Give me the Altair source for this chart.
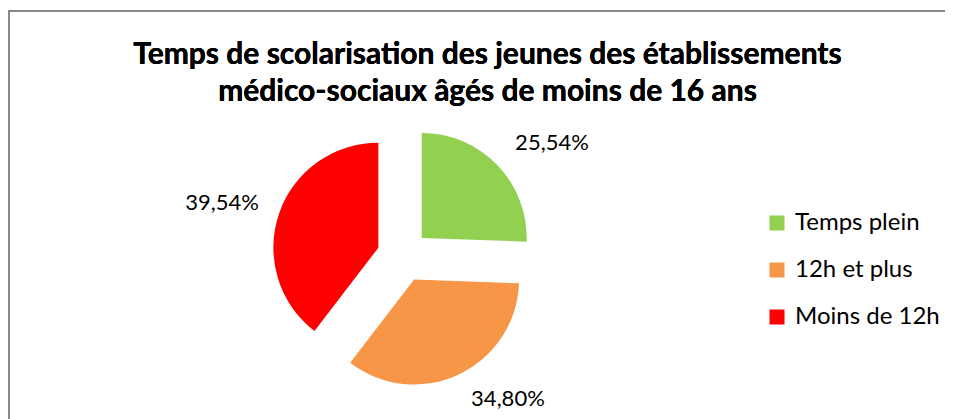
import altair as alt
import pandas as pd

categories = ["Temps plein", "\u00a012h et plus", "Moins de 12h"]
values = [25.54, 34.80, 39.54]
value_labels = ["25,54%", "34,80%", "39,54%"]
colors = ["#92D050", "#F79646", "#FF0000"]
title_lines = ["Temps de scolarisation des jeunes des établissements",
               "médico-sociaux âgés de moins de 16 ans"]

FONT = "Lato"

df = pd.DataFrame({
    "order": list(range(len(values))),
    "cat": categories,
    "value": values,
    "label": value_labels,
})

base = alt.Chart(df).transform_window(
    cum="sum(value)", sort=[alt.SortField("order")], frame=[None, 0]
).transform_joinaggregate(
    total="sum(value)"
).transform_calculate(
    a1="datum.cum / datum.total * 2 * PI",
    a0="(datum.cum - datum.value) / datum.total * 2 * PI",
).transform_calculate(
    mid="(datum.a0 + datum.a1) / 2"
).transform_calculate(
    cx="395 + 26 * sin(datum.mid)",
    cy="248 - 26 * cos(datum.mid)",
).transform_calculate(
    lx="datum.cx + 124 * sin(datum.mid) + (sin(datum.mid) > 0 ? 41 : -39)",
    ly="datum.cy - 134 * cos(datum.mid) - 2",
)

arcs = base.mark_arc(radius=105).encode(
    x=alt.X("cx:Q", scale=None),
    y=alt.Y("cy:Q", scale=None),
    theta=alt.Theta("a0:Q", scale=None),
    theta2=alt.Theta2("a1:Q"),
    color=alt.Color(
        "cat:N",
        scale=alt.Scale(domain=categories, range=colors),
        legend=alt.Legend(
            title=None, orient="none", legendX=757, legendY=203,
            symbolType="square", symbolSize=225, symbolStrokeWidth=0,
            labelFont=FONT, labelFontSize=24, labelColor="#000000",
            rowPadding=23, labelOffset=6,
        ),
    ),
)

texts = base.mark_text(
    align="center", baseline="middle", font=FONT, fontSize=22, color="#000000"
).encode(
    x=alt.X("lx:Q", scale=None),
    y=alt.Y("ly:Q", scale=None),
    text="label:N",
)

title1 = alt.Chart(df).mark_text(
    align="center", baseline="alphabetic", font=FONT, fontSize=30,
    fontWeight="bold", color="#000000"
).encode(x=alt.value(479.5), y=alt.value(55.5), text=alt.value(title_lines[0]))

title2 = alt.Chart(df).mark_text(
    align="center", baseline="alphabetic", font=FONT, fontSize=30,
    fontWeight="bold", color="#000000"
).encode(x=alt.value(479.5), y=alt.value(93), text=alt.value(title_lines[1]))

border_left = alt.Chart(df).mark_rule(color="#898989", strokeWidth=2).encode(
    x=alt.value(1), y=alt.value(3), y2=alt.value(411)
)
border_top = alt.Chart(df).mark_rule(color="#898989", strokeWidth=2).encode(
    x=alt.value(0), x2=alt.value(937), y=alt.value(3)
)

chart = alt.layer(border_left, border_top, arcs, texts, title1, title2).properties(
    width=937, height=411, autosize=alt.AutoSizeParams(type="none"), padding=0
).configure_view(stroke=None)

chart.save("out.html", embed_options={"renderer": "svg", "actions": False})
